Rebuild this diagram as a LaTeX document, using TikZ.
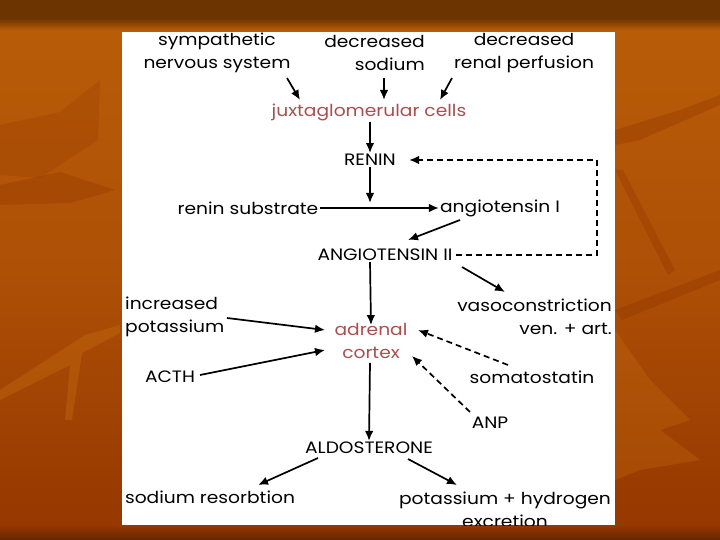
\documentclass[tikz,border=0pt]{standalone}
\usepackage{fontspec}
\setmainfont{Poppins}[FakeStretch=1.13]
\usepackage{tikz}
\usetikzlibrary{positioning,arrows.meta,calc}
\usepackage{xcolor}
\definecolor{slidetopc}{RGB}{108,52,0}
\definecolor{slidehi}{RGB}{184,92,8}
\definecolor{slidemid}{RGB}{174,80,6}
\definecolor{slidedeep}{RGB}{150,56,0}
\definecolor{slidebot}{RGB}{104,38,0}
\definecolor{leafdark}{RGB}{140,50,0}
\definecolor{leaflight}{RGB}{205,120,20}
\definecolor{jgred}{RGB}{170,78,78}
\pgfdeclareverticalshading{slideshade}{100bp}{color(0bp)=(slidebot); color(25bp)=(slidebot); color(26.4bp)=(slidedeep); color(50bp)=(slidemid); color(72.2bp)=(slidehi); color(73.3bp)=(slidetopc); color(75bp)=(slidetopc); color(100bp)=(slidetopc)}

\begin{document}
\begin{tikzpicture}[x=1pt,y=-1pt,
  lbl/.style={inner sep=1pt,font=\fontsize{16.5}{23}\selectfont},
  redlbl/.style={lbl,text=jgred},
  arr/.style={-{Latex[length=10pt,width=8.5pt]},line width=1.7pt},
  dasharr/.style={arr,dash pattern=on 6pt off 4pt}]

% slide background
\shade[shading=slideshade] (0,0) rectangle (720,540);
\fill[leafdark,opacity=.3] (0,185) -- (60,172) -- (115,190) -- (70,203) -- (0,205) -- cycle;
\fill[leafdark,opacity=.2] (0,125) -- (60,112) -- (100,80) -- (98,140) -- (40,178) -- (0,175) -- cycle;
\fill[leaflight,opacity=.3] (0,390) -- (85,335) -- (120,325) -- (120,333) -- (82,353) -- (72,420) -- (65,420) -- (70,365) -- (0,400) -- cycle;
\fill[leafdark,opacity=.3] (615,130) -- (680,110) -- (720,95) -- (720,105) -- (640,140) -- (615,145) -- cycle;
\fill[leafdark,opacity=.3] (615,170) -- (623,170) -- (675,270) -- (668,275) -- cycle;
\fill[leafdark,opacity=.3] (615,310) -- (720,270) -- (720,280) -- (622,320) -- cycle;
\fill[leaflight,opacity=.25] (615,330) -- (650,380) -- (690,420) -- (660,430) -- (700,460) -- (640,470) -- (615,480) -- cycle;

% white panel
\fill[white] (122,32) rectangle (615,525);
\begin{scope}
\clip (122,32) rectangle (615,525);

% top inputs
\node[lbl,align=center] (sns) at (217,53) {sympathetic\\nervous system};
\node[lbl,align=right,anchor=east] (dsod) at (426,53) {decreased\\sodium};
\node[lbl,align=center] (drp) at (524,53) {decreased\\renal perfusion};
\node[redlbl] (jg) at (369,112) {juxtaglomerular cells};

% renin chain
\node[lbl] (renin) at (370,160) {RENIN};
\node[lbl] (rsub) at (248,208) {renin substrate};
\node[lbl] (ang1) at (500,208) {angiotensin I};
\node[lbl] (ang2) at (385,255) {ANGIOTENSIN II};

% adrenal
\node[lbl,align=left,anchor=west] (incK) at (124,316.5) {increased\\potassium};
\node[redlbl,align=center] (adr) at (371,341) {adrenal\\cortex};
\node[lbl,align=right,anchor=east] (vaso) at (613,316.5) {vasoconstriction\\ven. + art.};
\node[lbl] (acth) at (170,377) {ACTH};
\node[lbl] (soma) at (532,377) {somatostatin};
\node[lbl] (anp) at (490,423) {ANP};

% outputs
\node[lbl] (aldo) at (369,448) {ALDOSTERONE};
\node[lbl] (nares) at (210,497) {sodium resorbtion};
\node[lbl,align=center] (khex) at (505,509.5) {potassium + hydrogen\\excretion};

\draw[arr] ([shift={(70,25)}]sns.center) -- ([shift={(-69,-12)}]jg.center);
\draw[arr] ([shift={(-42,25)}]dsod.east) -- ([shift={(15,-12)}]jg.center);
\draw[arr] ([shift={(-72,25)}]drp.center) -- ([shift={(71,-12)}]jg.center);
\draw[arr] ([xshift=1pt]jg.south) -- (renin.north);
\draw[arr,shorten >=5pt] (renin.south) -- (renin.south |- rsub.center);
\draw[arr] (rsub.east) -- (ang1.west);
\draw[arr] ([shift={(-40,12)}]ang1.center) -- ([shift={(23,-15)}]ang2.center);
\draw[dasharr] ([xshift=2pt]ang2.east) -- (597,255) |- ([xshift=12pt]renin.east);
\draw[arr] ([shift={(77,12)}]ang2.center) -- ([shift={(-108,-24.5)}]vaso.east);
\draw[arr] ([xshift=-15pt]ang2.south) -- ([yshift=-3pt]adr.north);
\draw[arr] ([shift={(103,1.5)}]incK.west) -- ([shift={(-46,-11)}]adr.center);
\draw[arr] ([shift={(30,-2)}]acth.center) -- ([shift={(-46,9)}]adr.center);
\draw[dasharr] ([shift={(-24,-12)}]soma.center) -- ([shift={(47,-11)}]adr.center);
\draw[dasharr] ([shift={(-20,-11)}]anp.center) -- ([shift={(41,15)}]adr.center);
\draw[arr] ([xshift=-1pt,yshift=-3pt]adr.south) -- (aldo.north);
\draw[arr] ([shift={(-51,10)}]aldo.center) -- ([shift={(48,-12)}]nares.center);
\draw[arr] ([shift={(39,11)}]aldo.center) -- ([shift={(-48,-24.5)}]khex.center);
\end{scope}
\end{tikzpicture}
\end{document}
